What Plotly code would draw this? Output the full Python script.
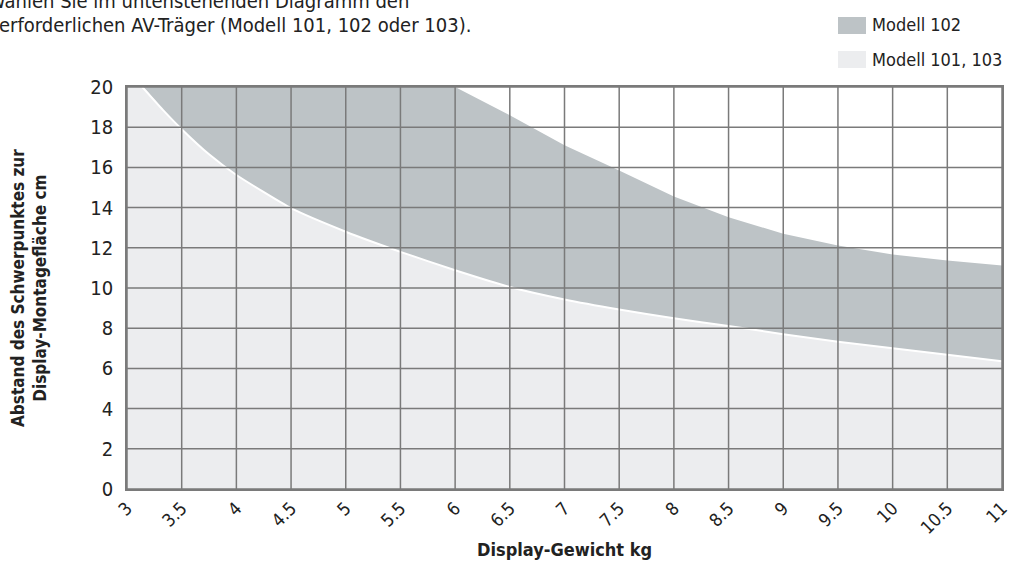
import plotly.graph_objects as go

# lower boundary (Modell 101, 103)
lower_x = [3.0, 3.14, 3.33, 3.5, 3.75, 4.0, 4.5, 5.0, 5.5, 6.0, 6.5, 7.0, 7.5, 8.0, 8.5, 9.0, 9.5, 10.0, 10.5, 11.0]
lower_y = [20, 20, 18.85, 17.9, 16.65, 15.62, 13.97, 12.8, 11.8, 10.88, 10.05, 9.43, 8.93, 8.49, 8.11, 7.7, 7.33, 7.0, 6.68, 6.35]

# upper boundary (Modell 102)
upper_x = [3.14, 6.0, 6.5, 7.0, 7.5, 8.0, 8.5, 9.0, 9.5, 10.0, 10.5, 11.0]
upper_y = [20, 20, 18.6, 17.1, 15.85, 14.55, 13.52, 12.7, 12.12, 11.67, 11.37, 11.12]

x_ticks = [3, 3.5, 4, 4.5, 5, 5.5, 6, 6.5, 7, 7.5, 8, 8.5, 9, 9.5, 10, 10.5, 11]
y_ticks = [0, 2, 4, 6, 8, 10, 12, 14, 16, 18, 20]

FONT = "DejaVu Sans Condensed, DejaVu Sans, sans-serif"
C_102 = "#bdc3c6"
C_101 = "#ecedef"
GRID = "#7a7a7a"
TXT = "#222222"

L, R, T, B = 127, 12, 87, 79
W, H = 1014, 568
PW, PH = W - L - R, H - T - B


def px(x):
  return (x - L) / PW


def py(y):
  return (H - B - y) / PH


fig = go.Figure()

fig.add_trace(go.Scatter(
  x=lower_x, y=lower_y, mode="lines", fill="tozeroy",
  fillcolor=C_101, line=dict(width=0, shape="spline", smoothing=0.5),
  hoverinfo="skip", showlegend=False,
))
fig.add_trace(go.Scatter(
  x=upper_x, y=upper_y, mode="lines", fill="tonexty",
  fillcolor=C_102, line=dict(width=0),
  hoverinfo="skip", showlegend=False,
))
# thin white edge along the lower boundary
fig.add_trace(go.Scatter(
  x=lower_x[1:], y=lower_y[1:], mode="lines",
  line=dict(color="white", width=2, shape="spline", smoothing=0.5),
  hoverinfo="skip", showlegend=False,
))

# grid on top of the fills
for xv in x_ticks:
  fig.add_shape(type="line", xref="x", yref="y", x0=xv, x1=xv, y0=0, y1=20,
                line=dict(color=GRID, width=1.5), layer="above")
for yv in y_ticks:
  fig.add_shape(type="line", xref="x", yref="y", x0=3, x1=11, y0=yv, y1=yv,
                line=dict(color=GRID, width=1.5), layer="above")

# legend swatches
legend_items = [("Modell 102", C_102), ("Modell 101, 103", C_101)]
for i, (name, col) in enumerate(legend_items):
  top = 17 + i * 34
  fig.add_shape(type="rect", xref="paper", yref="paper",
                x0=px(838), x1=px(866), y0=py(top + 17), y1=py(top),
                fillcolor=col, line=dict(width=0))
  fig.add_annotation(xref="paper", yref="paper", x=px(870), y=py(top + 8),
                     text=name, showarrow=False, xanchor="left", yanchor="middle",
                     font=dict(family=FONT, size=18, color=TXT))

# intro text, cropped at the top
fig.add_annotation(xref="paper", yref="paper", x=px(-14), y=py(1),
                   text="Wählen Sie im untenstehenden Diagramm den", showarrow=False,
                   xanchor="left", yanchor="middle",
                   font=dict(family=FONT, size=20, color=TXT))
fig.add_annotation(xref="paper", yref="paper", x=px(-3), y=py(25),
                   text="erforderlichen AV-Träger (Modell 101, 102 oder 103).", showarrow=False,
                   xanchor="left", yanchor="middle",
                   font=dict(family=FONT, size=20, color=TXT))

# axis titles
fig.add_annotation(xref="paper", yref="paper", x=0.5, y=py(549),
                   text="<b>Display-Gewicht kg</b>", showarrow=False,
                   xanchor="center", yanchor="middle",
                   font=dict(family=FONT, size=18, color=TXT))
fig.add_annotation(xref="paper", yref="paper", x=px(29), y=0.5,
                   text="<b>Abstand des Schwerpunktes zur<br>Display-Montagefläche cm</b>",
                   showarrow=False, textangle=-90, xanchor="center", yanchor="middle",
                   font=dict(family=FONT, size=17, color=TXT))

fig.update_layout(
  width=W, height=H,
  margin=dict(l=L, r=R, t=T, b=B),
  paper_bgcolor="white", plot_bgcolor="white",
  font=dict(family=FONT, size=18, color=TXT),
  xaxis=dict(
    range=[3, 11], tickvals=x_ticks, tickangle=-45, showgrid=False,
    zeroline=False, showline=True, linecolor=GRID, linewidth=1.5, mirror=True,
    ticks="", tickfont=dict(size=18), automargin=False,
  ),
  yaxis=dict(
    range=[0, 20], tickvals=y_ticks, showgrid=False, zeroline=False,
    showline=True, linecolor=GRID, linewidth=1.5, mirror=True,
    ticks="", ticklabelstandoff=8, tickfont=dict(size=20), automargin=False,
  ),
)

# drop the default page margin so the figure sits at the window's corner
fig.write_html("out.html", config={"displayModeBar": False},
               post_script="document.body.style.margin='0px';")
